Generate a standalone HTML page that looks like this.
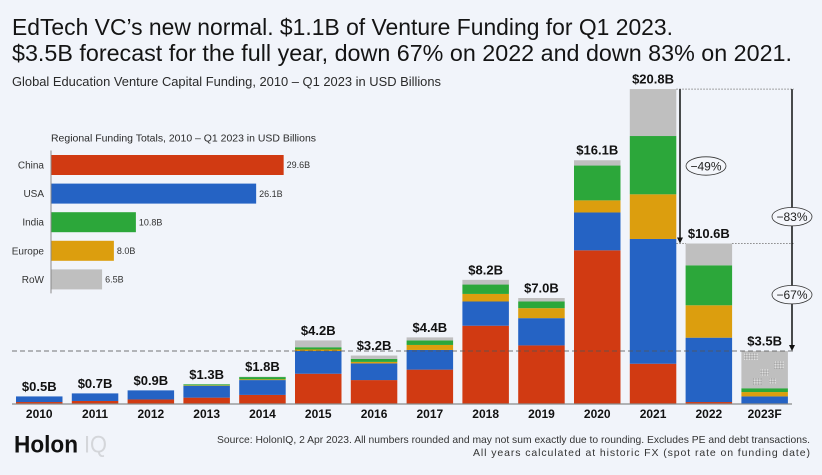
<!DOCTYPE html>
<html>
<head>
<meta charset="utf-8">
<title>EdTech VC funding</title>
<style>
html,body{margin:0;padding:0;background:#f1f4fa;}
svg{display:block;font-family:"Liberation Sans",sans-serif;}
</style>
</head>
<body>
<svg id="chart" xmlns="http://www.w3.org/2000/svg" width="822" height="475" viewBox="0 0 822 475">
  <defs>
    <pattern id="dots" width="2.6" height="2.6" patternUnits="userSpaceOnUse">
      <rect width="2.6" height="2.6" fill="#bfbfbf"/>
      <rect width="1.3" height="1.3" fill="#e0e0e0"/>
      <rect x="1.3" y="1.3" width="1.3" height="1.3" fill="#a5a5a5"/>
    </pattern>
    <pattern id="hatch" width="46.5" height="37" patternUnits="userSpaceOnUse" x="741" y="351">
      <rect width="46.5" height="37" fill="#bfbfbf"/>
      <rect x="3" y="2" width="14" height="7" fill="url(#dots)"/>
      <rect x="33" y="10" width="10" height="8" fill="url(#dots)"/>
      <rect x="19" y="18" width="9" height="7" fill="url(#dots)"/>
      <rect x="12" y="27" width="9" height="7" fill="url(#dots)"/>
      <rect x="28" y="27" width="7" height="6" fill="url(#dots)"/>
    </pattern>
  </defs>
  <rect width="822" height="475" fill="#f1f4fa"/>
  <text x="12" y="35" font-size="23" fill="#141414" textLength="661" lengthAdjust="spacingAndGlyphs">EdTech VC’s new normal. $1.1B of Venture Funding for Q1 2023.</text>
  <text x="12" y="61" font-size="23" fill="#141414" textLength="780" lengthAdjust="spacingAndGlyphs">$3.5B forecast for the full year, down 67% on 2022 and down 83% on 2021.</text>
  <text x="12" y="86" font-size="13" fill="#2a2a2a" textLength="429" lengthAdjust="spacingAndGlyphs">Global Education Venture Capital Funding, 2010 – Q1 2023 in USD Billions</text>
  <text x="51" y="141.5" font-size="10.5" fill="#2a2a2a" textLength="265" lengthAdjust="spacingAndGlyphs">Regional Funding Totals, 2010 – Q1 2023 in USD Billions</text>
  <g id="main"></g>
  <g id="regional"></g>
  <g id="notes"></g>
  <g id="labels"></g>
  <g>
    <text x="14" y="452.5" font-size="24" font-weight="bold" fill="#111" textLength="64" lengthAdjust="spacingAndGlyphs">Holon</text>
    <text x="84" y="452.5" font-size="24" fill="#d4d6da" textLength="23" lengthAdjust="spacingAndGlyphs">IQ</text>
  </g>
  <text x="217" y="443" font-size="10.5" fill="#333" textLength="593" lengthAdjust="spacingAndGlyphs">Source: HolonIQ, 2 Apr 2023. All numbers rounded and may not sum exactly due to rounding. Excludes PE and debt transactions.</text>
  <text x="473" y="456" font-size="10.5" fill="#333" textLength="337" lengthAdjust="spacing">All years calculated at historic FX (spot rate on funding date)</text>
</svg>
<script>
const years = ['2010','2011','2012','2013','2014','2015','2016','2017','2018','2019','2020','2021','2022','2023F'];
const chinaValues = [0.13,0.2,0.3,0.42,0.6,2.0,1.58,2.27,5.17,3.87,10.15,2.66,0.13,0.0];
const usaValues = [0.37,0.5,0.6,0.78,0.98,1.5,1.1,1.3,1.6,1.8,2.5,8.24,4.25,0.5];
const europeValues = [0.0,0.0,0.0,0.03,0.05,0.1,0.1,0.33,0.5,0.66,0.8,2.95,2.14,0.29];
const indiaValues = [0.0,0.0,0.0,0.07,0.15,0.15,0.2,0.3,0.62,0.44,2.3,3.85,2.64,0.25];
const rowValues = [0.0,0.0,0.0,0.0,0.02,0.45,0.22,0.2,0.31,0.23,0.35,3.1,1.44,2.46];
const totalLabels = ['$0.5B','$0.7B','$0.9B','$1.3B','$1.8B','$4.2B','$3.2B','$4.4B','$8.2B','$7.0B','$16.1B','$20.8B','$10.6B','$3.5B'];
const regionNames = ['China','USA','India','Europe','RoW'];
const regionValues = [29.6,26.1,10.8,8.0,6.5];
const regionLabels = ['29.6B','26.1B','10.8B','8.0B','6.5B'];
const changeLabels = ['−49%','−83%','−67%'];

const NS = 'http://www.w3.org/2000/svg';
const COLORS = {china:'#d13a12',usa:'#2563c4',europe:'#dc9e0e',india:'#2ca73a',row:'#bfbfbf'};
const REGION_COLORS = ['#d13a12','#2563c4','#2ca73a','#dc9e0e','#bfbfbf'];
const BASE_Y = 404, UNIT = 15.14, BAR_X0 = 16, PITCH = 55.8, BAR_W = 46.5;
const yScale = v => BASE_Y - v * UNIT;
const xScale = i => BAR_X0 + i * PITCH;
const R_X0 = 51, R_UNIT = 7.86, R_Y0 = 165, R_PITCH = 28.6, R_H = 20;
const rxScale = v => R_X0 + v * R_UNIT;
const ryScale = i => R_Y0 + i * R_PITCH;

function mk(tag, attrs, parent, text){
  const e = document.createElementNS(NS, tag);
  for (const k in attrs) e.setAttribute(k, attrs[k]);
  if (text !== undefined) e.textContent = text;
  parent.appendChild(e);
  return e;
}

const main = document.getElementById('main');
const regional = document.getElementById('regional');
const notes = document.getElementById('notes');
const labels = document.getElementById('labels');
const seriesList = [
  ['china', chinaValues],
  ['usa', usaValues],
  ['europe', europeValues],
  ['india', indiaValues],
  ['row', rowValues]
];
const totals = years.map((y, i) => seriesList.reduce((s, e) => s + e[1][i], 0));

years.forEach((year, i) => {
  let acc = 0;
  seriesList.forEach(([name, vals]) => {
    const v = vals[i];
    if (v <= 0) return;
    const top = yScale(acc + v);
    const fill = (name === 'row' && year === '2023F') ? 'url(#hatch)' : COLORS[name];
    const bar = mk('rect', {x: xScale(i), y: top, width: BAR_W, height: v * UNIT, fill: fill}, main);
    
    
    acc += v;
  });
  const total = mk('text', {x: xScale(i) + BAR_W / 2, y: yScale(totals[i]) - 5.5, 'font-size': 13, 'font-weight': 'bold', 'text-anchor': 'middle', fill: '#111'}, labels, totalLabels[i]);
  
  
  const yr = mk('text', {x: xScale(i) + BAR_W / 2, y: 418, 'font-size': 12, 'font-weight': 'bold', 'text-anchor': 'middle', fill: '#111'}, labels, year);
  
  
});

const axis = mk('line', {x1: 12, x2: 792, y1: BASE_Y, y2: BASE_Y, stroke: '#8a8a8a', 'stroke-width': 1.2}, main);



const last = totals.length - 1;
const refY = yScale(totals[last]);
const ref = mk('line', {x1: 12, x2: 796, y1: refY, y2: refY, stroke: '#555', 'stroke-width': 1, 'stroke-dasharray': '5 3', opacity: 0.8}, notes);



regionNames.forEach((name, i) => {
  const cy = ryScale(i);
  const bar = mk('rect', {x: R_X0, y: cy - R_H / 2, width: rxScale(regionValues[i]) - R_X0, height: R_H, fill: REGION_COLORS[i]}, regional);
  
  
  const lab = mk('text', {x: 44, y: cy + 3.5, 'font-size': 10, 'text-anchor': 'end', fill: '#333'}, regional, name);
  
  
  const val = mk('text', {x: rxScale(regionValues[i]) + 3, y: cy + 3.2, 'font-size': 9, fill: '#333'}, regional, regionLabels[i]);
  
  
});
const rAxis = mk('line', {x1: R_X0, x2: R_X0, y1: ryScale(0) - 14.5, y2: ryScale(regionNames.length - 1) + 14, stroke: '#8a8a8a', 'stroke-width': 1}, regional);



const peakIndex = 11, prevIndex = 12;
const peakY = yScale(totals[peakIndex]), prevY = yScale(totals[prevIndex]);
const LEFT_X = 680, RIGHT_X = 792;

const dot1 = mk('line', {x1: xScale(peakIndex) + BAR_W, x2: RIGHT_X + 2, y1: peakY, y2: peakY, stroke: '#888', 'stroke-width': 1, 'stroke-dasharray': '1.5 1.5'}, notes);


const dot2 = mk('line', {x1: xScale(prevIndex) + BAR_W, x2: RIGHT_X + 2, y1: prevY, y2: prevY, stroke: '#888', 'stroke-width': 1, 'stroke-dasharray': '1.5 1.5'}, notes);


const dot3 = mk('line', {x1: xScale(peakIndex) + BAR_W, x2: LEFT_X + 6, y1: prevY, y2: prevY, stroke: '#888', 'stroke-width': 1, 'stroke-dasharray': '1.5 1.5'}, notes);



function arrowHead(x, y, parent){
  return mk('polygon', {points: (x - 3) + ',' + (y - 6) + ' ' + (x + 3) + ',' + (y - 6) + ' ' + x + ',' + y, fill: '#111'}, parent);
}
const a1 = mk('line', {x1: LEFT_X, x2: LEFT_X, y1: peakY, y2: prevY - 3, stroke: '#111', 'stroke-width': 1.5}, notes);


const h1 = arrowHead(LEFT_X, prevY, notes);


const a2 = mk('line', {x1: RIGHT_X, x2: RIGHT_X, y1: peakY, y2: refY - 3, stroke: '#111', 'stroke-width': 1.5}, notes);


const h2 = arrowHead(RIGHT_X, refY, notes);



[[706, 166], [RIGHT_X, 216.7], [RIGHT_X, 294.7]].forEach((c, i) => {
  const ell = mk('ellipse', {cx: c[0], cy: c[1], rx: 20, ry: 9.2, fill: '#f4f6fb', stroke: '#333', 'stroke-width': 0.8}, notes);
  
  
  const t = mk('text', {x: c[0], y: c[1] + 4.3, 'font-size': 12, 'text-anchor': 'middle', fill: '#222'}, notes, changeLabels[i]);
  
  
});
</script>
</body>
</html>
